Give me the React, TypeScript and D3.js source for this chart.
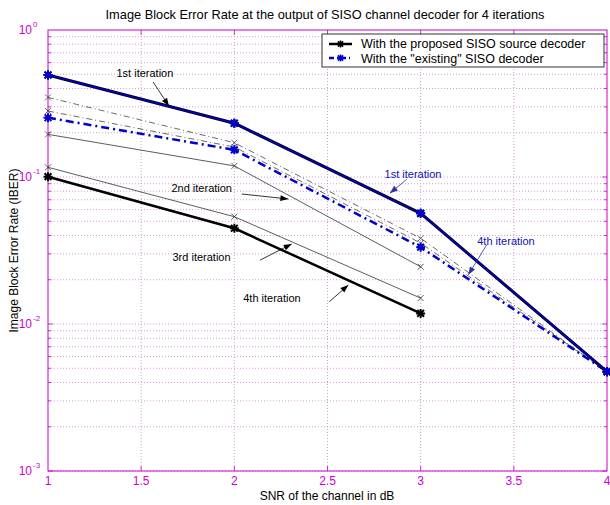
import React, { useEffect, useRef } from 'react';
import * as d3 from 'd3';

const snr = [1, 2, 3, 4];
const xTicks = [1, 1.5, 2, 2.5, 3, 3.5, 4];
const yDecades = [0, -1, -2, -3];

// proposed SISO source decoder (black)
const proposedIter1 = [0.494, 0.232, 0.0566, 0.00474];
const proposedIter2 = [0.195, 0.119, 0.0245];
const proposedIter3 = [0.1164, 0.0537, 0.015];
const proposedIter4 = [0.1005, 0.0448, 0.0118];

// "existing" SISO decoder
const existingIter1 = [0.494, 0.232, 0.0566, 0.00474];
const existingIter2 = [0.348, 0.171, 0.0383, 0.00474];
const existingIter3 = [0.281, 0.16, 0.0355, 0.00474];
const existingIter4 = [0.253, 0.153, 0.0333, 0.00474];

const notes = [
  { text: '1st iteration', color: '#000', tx: 1.52, ty: 0.51, ax: [1.564, 0.443], ah: [1.649, 0.304] },
  { text: '2nd iteration', color: '#000', tx: 1.825, ty: 0.0846, ax: [2.04, 0.0766], ah: [2.29, 0.0709] },
  { text: '3rd iteration', color: '#000', tx: 1.824, ty: 0.0286, ax: [2.138, 0.0272], ah: [2.308, 0.035] },
  { text: '4th iteration', color: '#000', tx: 2.202, ty: 0.015, ax: [2.51, 0.0142], ah: [2.612, 0.0184] },
  { text: '1st iteration', color: '#1010b0', tx: 2.959, ty: 0.105, ax: [2.925, 0.0964], ah: [2.835, 0.0775] },
  { text: '4th iteration', color: '#1010b0', tx: 3.458, ty: 0.0369, ax: [3.354, 0.0345], ah: [3.256, 0.0216] },
];

const MAG = '#cc00cc';
const BLUE = '#0000cc';
const FONT = 'Liberation Sans, Arial, sans-serif';

const App = () => {
  const ref = useRef<SVGSVGElement | null>(null);

  useEffect(() => {
    const svg = d3.select(ref.current);
    svg.selectAll('*').remove();

    const left = 48, right = 607, top = 30, bottom = 471;
    const x = d3.scaleLinear().domain([1, 4]).range([left, right]);
    const y = d3.scaleLog().domain([1e-3, 1]).range([bottom, top]);

    svg.append('rect').attr('width', 610).attr('height', 505).attr('fill', '#fff');

    // grid
    const grid = svg.append('g');
    const minor: number[] = [];
    for (let e = -3; e < 0; e++) for (let m = 1; m < 10; m++) minor.push(m * Math.pow(10, e));
    minor.forEach(v => {
      const major = Math.abs(Math.log10(v) % 1) < 1e-9;
      grid.append('line')
        .attr('x1', left).attr('x2', right).attr('y1', y(v)).attr('y2', y(v))
        .attr('stroke', '#cc80cc').attr('stroke-width', 0.8).attr('stroke-dasharray', '1,2');
      grid.append('line').attr('x1', left).attr('x2', left + (major ? 5 : 3))
        .attr('y1', y(v)).attr('y2', y(v)).attr('stroke', MAG).attr('stroke-width', 0.8);
      grid.append('line').attr('x1', right).attr('x2', right - (major ? 5 : 3))
        .attr('y1', y(v)).attr('y2', y(v)).attr('stroke', MAG).attr('stroke-width', 0.8);
    });
    xTicks.slice(1, -1).forEach(v => {
      grid.append('line')
        .attr('x1', x(v)).attr('x2', x(v)).attr('y1', top).attr('y2', bottom)
        .attr('stroke', '#cc80cc').attr('stroke-width', 0.8).attr('stroke-dasharray', '1,2');
      grid.append('line').attr('x1', x(v)).attr('x2', x(v)).attr('y1', bottom).attr('y2', bottom - 5)
        .attr('stroke', MAG).attr('stroke-width', 0.8);
      grid.append('line').attr('x1', x(v)).attr('x2', x(v)).attr('y1', top).attr('y2', top + 5)
        .attr('stroke', MAG).attr('stroke-width', 0.8);
    });

    svg.append('rect')
      .attr('x', left).attr('y', top).attr('width', right - left).attr('height', bottom - top)
      .attr('fill', 'none').attr('stroke', MAG).attr('stroke-width', 1);

    // tick labels
    xTicks.forEach(v => {
      svg.append('text').attr('x', x(v)).attr('y', bottom + 14)
        .attr('text-anchor', 'middle').attr('font-family', FONT).attr('font-size', 12)
        .attr('fill', MAG).text(String(v));
    });
    yDecades.forEach(e => {
      svg.append('text').attr('x', left - 16).attr('y', y(Math.pow(10, e)) + 4)
        .attr('text-anchor', 'end').attr('font-family', FONT).attr('font-size', 12)
        .attr('fill', MAG).text('10');
      svg.append('text').attr('x', left - 15).attr('y', y(Math.pow(10, e)) - 3)
        .attr('font-family', FONT).attr('font-size', 8).attr('fill', MAG).text(String(e));
    });

    // titles
    svg.append('text').attr('x', 325).attr('y', 19).attr('text-anchor', 'middle')
      .attr('font-family', FONT).attr('font-size', 12.8).attr('fill', '#000')
      .text('Image Block Error Rate at the output of SISO channel decoder for 4 iterations');
    svg.append('text').attr('x', 327).attr('y', 500).attr('text-anchor', 'middle')
      .attr('font-family', FONT).attr('font-size', 12).attr('fill', '#000')
      .text('SNR of the channel in dB');
    svg.append('text').attr('transform', `translate(18,${(top + bottom) / 2}) rotate(-90)`)
      .attr('text-anchor', 'middle').attr('font-family', FONT).attr('font-size', 12).attr('fill', '#000')
      .text('Image Block Error Rate (IBER)');

    // series
    const line = d3.line<number>().x((_, i) => x(snr[i])).y(d => y(d));
    const plot = svg.append('g');

    const star = (g: any, cx: number, cy: number, r: number, color: string, w: number) => {
      const d = `M${cx - r},${cy}L${cx + r},${cy}M${cx},${cy - r}L${cx},${cy + r}` +
        `M${cx - r * 0.75},${cy - r * 0.75}L${cx + r * 0.75},${cy + r * 0.75}` +
        `M${cx - r * 0.75},${cy + r * 0.75}L${cx + r * 0.75},${cy - r * 0.75}`;
      g.append('path').attr('d', d).attr('stroke', color).attr('stroke-width', w).attr('fill', 'none');
    };
    const cross = (g: any, cx: number, cy: number, r: number, color: string, w: number) => {
      const d = `M${cx - r},${cy - r}L${cx + r},${cy + r}M${cx - r},${cy + r}L${cx + r},${cy - r}`;
      g.append('path').attr('d', d).attr('stroke', color).attr('stroke-width', w).attr('fill', 'none');
    };

    const draw = (vals: number[], color: string, width: number, dash: string | null,
      marker: 'star' | 'cross', mr: number, mw: number) => {
      plot.append('path').datum(vals).attr('d', line)
        .attr('fill', 'none').attr('stroke', color).attr('stroke-width', width)
        .attr('stroke-dasharray', dash);
      vals.forEach((v, i) => {
        if (marker === 'star') star(plot, x(snr[i]), y(v), mr, color, mw);
        else cross(plot, x(snr[i]), y(v), mr, color, mw);
      });
    };

    draw(existingIter2, '#444', 0.8, '6,3,1,3', 'cross', 3, 0.8);
    draw(existingIter3, '#444', 0.8, '6,3,1,3', 'cross', 3, 0.8);
    draw(proposedIter2, '#333', 0.8, null, 'cross', 3, 0.8);
    draw(proposedIter3, '#333', 0.8, null, 'cross', 3, 0.8);
    draw(existingIter4, BLUE, 2.5, '8,4,2,4', 'star', 4.5, 2);
    draw(proposedIter4, '#000', 2.5, null, 'star', 4.5, 2);
    draw(proposedIter1, '#000', 3, null, 'star', 4.5, 2);
    draw(existingIter1, BLUE, 1.6, null, 'star', 4.5, 2);

    // annotations
    notes.forEach(n => {
      svg.append('text').attr('x', x(n.tx)).attr('y', y(n.ty) + 4).attr('text-anchor', 'middle')
        .attr('font-family', FONT).attr('font-size', 11).attr('fill', n.color).text(n.text);
      const x1 = x(n.ax[0]), y1 = y(n.ax[1]), x2 = x(n.ah[0]), y2 = y(n.ah[1]);
      const col = n.color === '#000' ? '#000' : '#3030a0';
      svg.append('line').attr('x1', x1).attr('y1', y1).attr('x2', x2).attr('y2', y2)
        .attr('stroke', col).attr('stroke-width', 0.8);
      const ang = Math.atan2(y2 - y1, x2 - x1);
      const L = 8, W = 3;
      const bx = x2 - L * Math.cos(ang), by = y2 - L * Math.sin(ang);
      const px = -Math.sin(ang) * W, py = Math.cos(ang) * W;
      svg.append('path')
        .attr('d', `M${x2},${y2}L${bx + px},${by + py}L${bx - px},${by - py}Z`)
        .attr('fill', col);
    });

    // legend
    const lg = svg.append('g');
    lg.append('rect').attr('x', 322).attr('y', 34).attr('width', 282).attr('height', 33)
      .attr('fill', '#fff').attr('stroke', '#000').attr('stroke-width', 0.8);
    lg.append('line').attr('x1', 329).attr('x2', 352).attr('y1', 44).attr('y2', 44)
      .attr('stroke', '#000').attr('stroke-width', 2.5);
    star(lg, 340.5, 44, 3.5, '#000', 1.6);
    lg.append('line').attr('x1', 329).attr('x2', 352).attr('y1', 58).attr('y2', 58)
      .attr('stroke', BLUE).attr('stroke-width', 2.5).attr('stroke-dasharray', '5,3,1,3');
    star(lg, 340.5, 58, 3.5, BLUE, 1.6);
    lg.append('text').attr('x', 361).attr('y', 48).attr('font-family', FONT).attr('font-size', 12.5)
      .text('With the proposed SISO source decoder');
    lg.append('text').attr('x', 361).attr('y', 62.5).attr('font-family', FONT).attr('font-size', 12.5)
      .text('With the "existing" SISO decoder');
  }, []);

  return (
    <svg ref={ref} width={610} height={505}
      style={{ position: 'absolute', left: 0, top: 0, background: '#fff' }} />
  );
};

export default App;
